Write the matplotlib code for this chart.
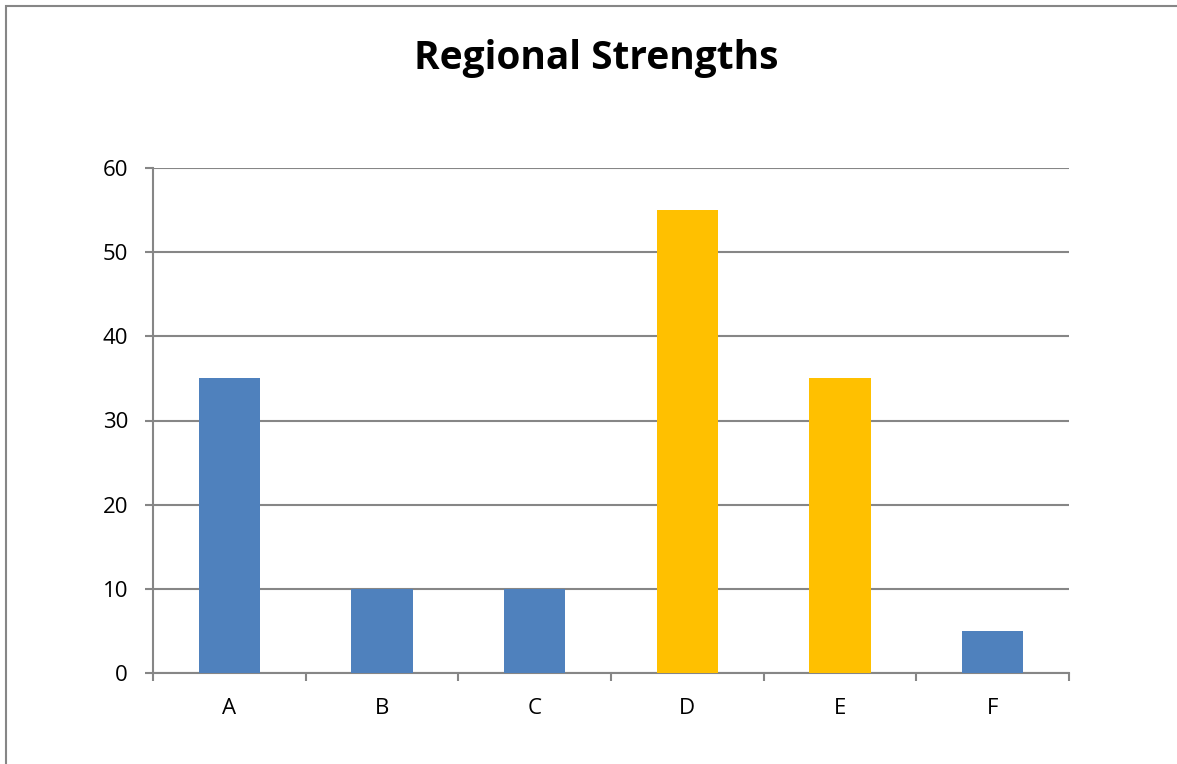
import matplotlib
matplotlib.use("Agg")
import matplotlib.pyplot as plt
from matplotlib.patches import Rectangle
import numpy as np

# chart data
regions = ["A", "B", "C", "D", "E", "F"]
strengths = [35, 10, 10, 55, 35, 5]
highlight = [False, False, False, True, True, False]

BLUE = "#4F81BD"
GOLD = "#FFC000"
GRAY = "#868686"

plt.rcParams["font.family"] = ["Open Sans", "DejaVu Sans"]

fig = plt.figure(figsize=(11.77, 7.64), dpi=100)
ax = fig.add_axes([153 / 1177, 1 - 673 / 764, (1069 - 153) / 1177, (673 - 168) / 764])

# outer chart border (right/bottom edges fall outside the picture)
fig.patches.append(Rectangle((6 / 1177, -0.1), 1.2, 1 - 6 / 764 + 0.1,
                             transform=fig.transFigure, fill=False,
                             edgecolor=GRAY, linewidth=1.5, zorder=0))

x = np.arange(len(regions))
colors = [GOLD if h else BLUE for h in highlight]
ax.bar(x, strengths, width=0.4, color=colors, zorder=3)

ax.set_xlim(-0.5, len(regions) - 0.5)
ax.set_ylim(0, 60)
ax.set_yticks(range(0, 61, 10))
ax.yaxis.grid(True, color=GRAY, linewidth=1.5)
ax.set_axisbelow(True)

for side in ["top", "right"]:
    ax.spines[side].set_visible(False)
for side in ["left", "bottom"]:
    ax.spines[side].set_color(GRAY)
    ax.spines[side].set_linewidth(1.5)

ax.set_xticks(x)
ax.set_xticklabels(regions)
ax.set_xticks(np.arange(-0.5, len(regions)), minor=True)
ax.tick_params(axis="x", which="major", length=0, pad=18, labelsize=16)
ax.tick_params(axis="x", which="minor", length=6, width=1.5, color=GRAY)
ax.tick_params(axis="y", length=6, width=1.5, color=GRAY, pad=12, labelsize=16)

fig.text(596 / 1177, 1 - 69 / 764, "Regional Strengths", ha="center", va="baseline",
         fontsize=28, fontweight="bold")

fig.savefig("out.png", dpi=100)
